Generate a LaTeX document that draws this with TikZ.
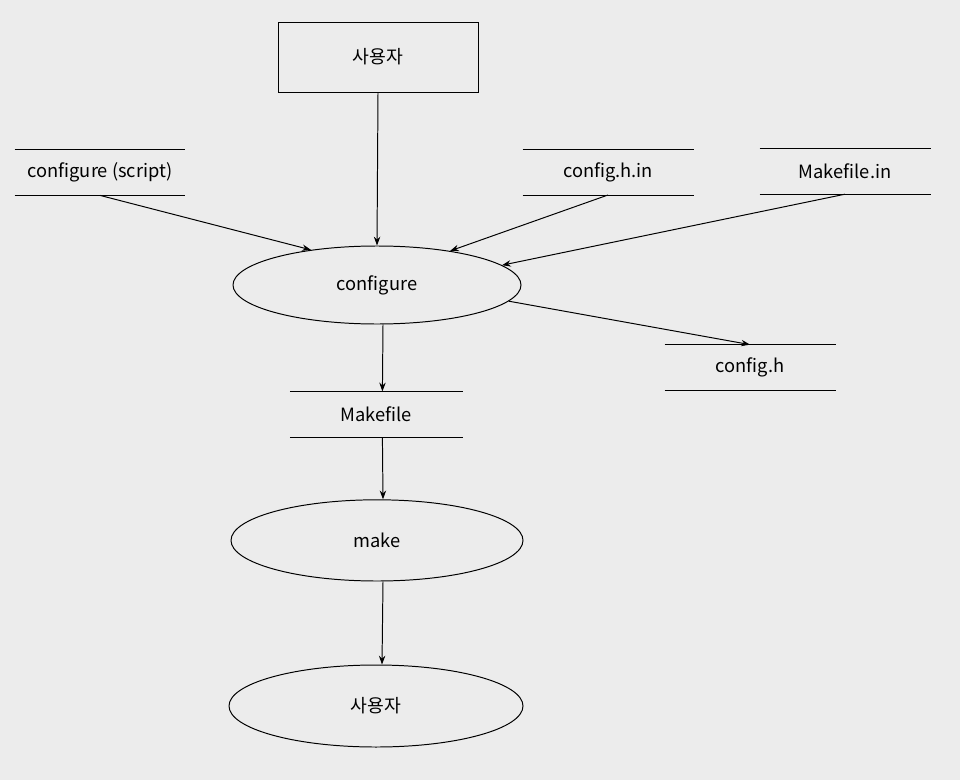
\documentclass[tikz,border=0pt]{standalone}
\usepackage{fontspec}
\setmainfont{Noto Sans CJK KR}
\usetikzlibrary{arrows.meta,shapes.geometric}
\definecolor{paper}{RGB}{236,236,236}
\tikzset{
  file/.style={rectangle,minimum width=4.25cm,minimum height=1.125cm,inner sep=0pt,
    append after command={(\tikzlastnode.north west) edge (\tikzlastnode.north east)
                          (\tikzlastnode.south west) edge (\tikzlastnode.south east)}},
  proc/.style={ellipse,draw,minimum width=7.25cm,minimum height=2cm,inner sep=0pt},
  arr/.style={-{Stealth[length=2.2mm,width=1.6mm]}}
}
\begin{document}
\begin{tikzpicture}[line width=0.7pt,font=\fontsize{13}{15}\selectfont]
    \fill[paper] (0,0) rectangle (24,19.5);
    \useasboundingbox (0,0) rectangle (24,19.5);
    % sources
    \node[draw,minimum width=5cm,minimum height=1.75cm] (user) at (9.45,18.075) {사용자};
    \node[file] (script) at (2.5,15.19) {configure (script)};
    \node[file] (chin) at (15.2,15.2) {config.h.in};
    \node[file] (mfin) at (21.125,15.22) {Makefile.in};
    % processes and results
    \node[proc,minimum width=7.2cm,minimum height=1.95cm] (conf) at (9.425,12.375) {configure};
    \node[file] (ch) at (18.75,10.31) {config.h};
    \node[file,minimum width=4.3cm] (mf) at (9.41,9.14) {Makefile};
    \node[proc,minimum width=7.3cm,minimum height=2.03cm] (make) at (9.425,5.99) {make};
    \node[proc,minimum width=7.35cm,minimum height=2.05cm] (user2) at (9.4,1.85) {사용자};
    % connectors
    \draw[arr] (user.south) -- (conf.north);
    \draw[arr] (script.south) -- (conf.152);
    \draw[arr] (chin.south) -- (conf.25);
    \draw[arr] (mfin.south) -- (conf.9);
    \draw[arr] (conf.-7) -- (ch.north);
    \draw[arr] ([xshift=0.15cm]conf.south) -- ([xshift=0.15cm]mf.north);
    \draw[arr] ([xshift=0.15cm]mf.south) -- ([xshift=0.15cm]make.north);
    \draw[arr] ([xshift=0.15cm]make.south) -- ([xshift=0.15cm]user2.north);
\end{tikzpicture}
\end{document}
